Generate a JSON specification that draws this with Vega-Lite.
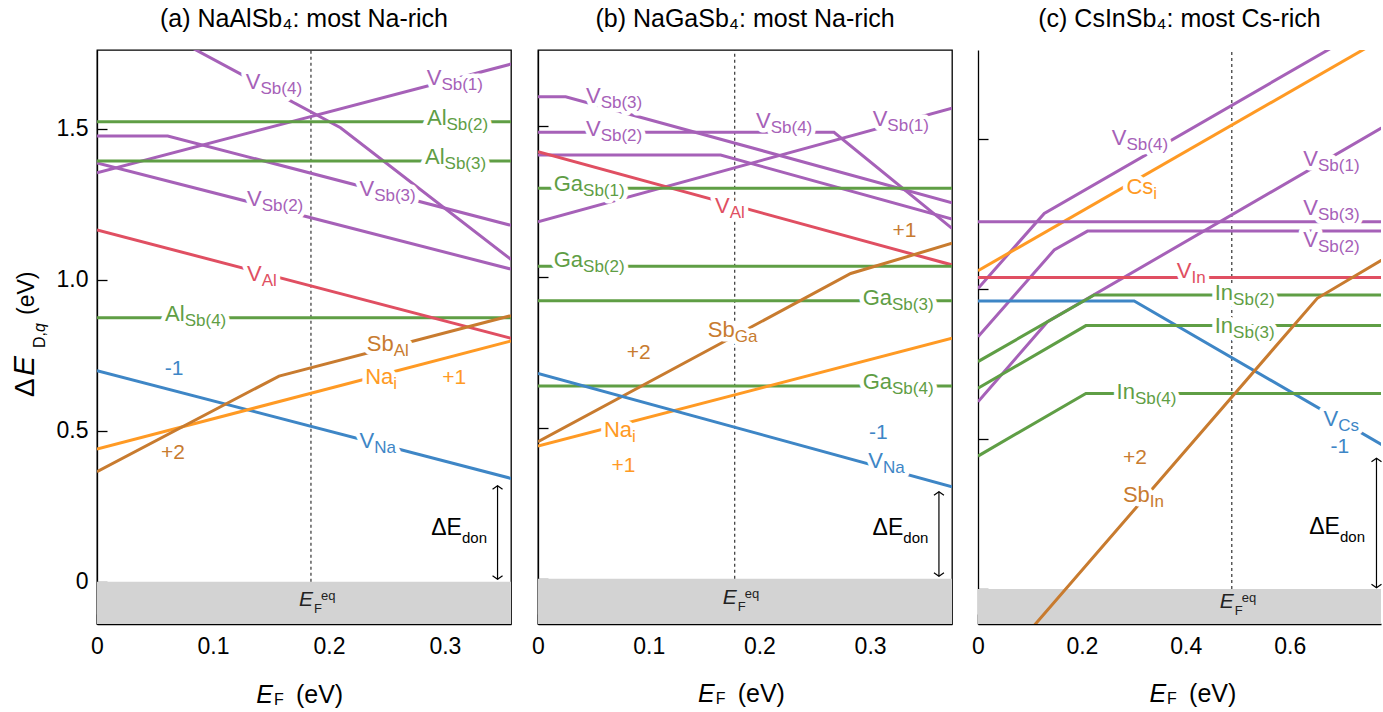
{
"$schema": "https://vega.github.io/schema/vega-lite/v6.json",
"padding": {"left": 8, "top": 6, "right": 0, "bottom": 0},
"spacing": 18,
"config": {
  "font": "Liberation Sans",
  "view": {"stroke": "black", "strokeWidth": 1.3},
  "axis": {"grid": false, "title": null, "domainColor": "black", "domainWidth": 1.3, "tickColor": "black", "tickWidth": 1.3, "tickSize": -10, "labelFontSize": 23, "labelColor": "black", "labelFont": "Liberation Sans", "labelFlush": false},
  "title": {"fontSize": 25, "fontWeight": "normal", "color": "black", "baseline": "alphabetic", "offset": 18, "frame": "group", "anchor": "middle", "font": "Liberation Sans"}
},
"resolve": {"scale": {"x": "independent", "y": "independent"}},
"datasets": {
  "lines": [
    {"p":"a","id":"a1","k":"VSb","x":0,"y":1.937},{"p":"a","id":"a1","k":"VSb","x":0.21,"y":1.503},{"p":"a","id":"a1","k":"VSb","x":0.357,"y":1.067},
    {"p":"a","id":"a2","k":"VSb","x":0,"y":1.354},{"p":"a","id":"a2","k":"VSb","x":0.357,"y":1.714},
    {"p":"a","id":"a3","k":"VSb","x":0,"y":1.476},{"p":"a","id":"a3","k":"VSb","x":0.061,"y":1.476},{"p":"a","id":"a3","k":"VSb","x":0.357,"y":1.18},
    {"p":"a","id":"a4","k":"VSb","x":0,"y":1.387},{"p":"a","id":"a4","k":"VSb","x":0.357,"y":1.035},
    {"p":"a","id":"a5","k":"XSb","x":0,"y":1.523},{"p":"a","id":"a5","k":"XSb","x":0.357,"y":1.523},
    {"p":"a","id":"a6","k":"XSb","x":0,"y":1.393},{"p":"a","id":"a6","k":"XSb","x":0.357,"y":1.393},
    {"p":"a","id":"a7","k":"XSb","x":0,"y":0.874},{"p":"a","id":"a7","k":"XSb","x":0.357,"y":0.874},
    {"p":"a","id":"a8","k":"VM","x":0,"y":1.165},{"p":"a","id":"a8","k":"VM","x":0.357,"y":0.806},
    {"p":"a","id":"a9","k":"VA","x":0,"y":0.699},{"p":"a","id":"a9","k":"VA","x":0.357,"y":0.342},
    {"p":"a","id":"a10","k":"Ai","x":0,"y":0.439},{"p":"a","id":"a10","k":"Ai","x":0.357,"y":0.797},
    {"p":"a","id":"a11","k":"SbM","x":0,"y":0.364},{"p":"a","id":"a11","k":"SbM","x":0.157,"y":0.681},{"p":"a","id":"a11","k":"SbM","x":0.357,"y":0.881},
    {"p":"b","id":"b1","k":"VSb","x":0,"y":1.596},{"p":"b","id":"b1","k":"VSb","x":0.025,"y":1.596},{"p":"b","id":"b1","k":"VSb","x":0.374,"y":1.245},
    {"p":"b","id":"b2","k":"VSb","x":0,"y":1.478},{"p":"b","id":"b2","k":"VSb","x":0.2674,"y":1.478},{"p":"b","id":"b2","k":"VSb","x":0.374,"y":1.16},
    {"p":"b","id":"b3","k":"VSb","x":0,"y":1.403},{"p":"b","id":"b3","k":"VSb","x":0.165,"y":1.403},{"p":"b","id":"b3","k":"VSb","x":0.374,"y":1.191},
    {"p":"b","id":"b4","k":"VSb","x":0,"y":1.182},{"p":"b","id":"b4","k":"VSb","x":0.374,"y":1.558},
    {"p":"b","id":"b5","k":"VM","x":0,"y":1.414},{"p":"b","id":"b5","k":"VM","x":0.374,"y":1.039},
    {"p":"b","id":"b6","k":"XSb","x":0,"y":1.293},{"p":"b","id":"b6","k":"XSb","x":0.374,"y":1.293},
    {"p":"b","id":"b7","k":"XSb","x":0,"y":1.035},{"p":"b","id":"b7","k":"XSb","x":0.374,"y":1.035},
    {"p":"b","id":"b8","k":"XSb","x":0,"y":0.9205},{"p":"b","id":"b8","k":"XSb","x":0.374,"y":0.9205},
    {"p":"b","id":"b9","k":"XSb","x":0,"y":0.638},{"p":"b","id":"b9","k":"XSb","x":0.374,"y":0.638},
    {"p":"b","id":"b10","k":"SbM","x":0,"y":0.4536},{"p":"b","id":"b10","k":"SbM","x":0.2825,"y":1.0106},{"p":"b","id":"b10","k":"SbM","x":0.374,"y":1.1106},
    {"p":"b","id":"b11","k":"Ai","x":0,"y":0.439},{"p":"b","id":"b11","k":"Ai","x":0.374,"y":0.796},
    {"p":"b","id":"b12","k":"VA","x":0,"y":0.68},{"p":"b","id":"b12","k":"VA","x":0.374,"y":0.3046},
    {"p":"c","id":"c1","k":"VSb","x":0,"y":1.002},{"p":"c","id":"c1","k":"VSb","x":0.1275,"y":1.252},{"p":"c","id":"c1","k":"VSb","x":0.8,"y":1.923},
    {"p":"c","id":"c2","k":"Ai","x":0,"y":1.061},{"p":"c","id":"c2","k":"Ai","x":0.8,"y":1.856},
    {"p":"c","id":"c3","k":"VSb","x":0,"y":1.224},{"p":"c","id":"c3","k":"VSb","x":0.8,"y":1.224},
    {"p":"c","id":"c4","k":"VSb","x":0,"y":0.841},{"p":"c","id":"c4","k":"VSb","x":0.1467,"y":1.13},{"p":"c","id":"c4","k":"VSb","x":0.2108,"y":1.193},{"p":"c","id":"c4","k":"VSb","x":0.8,"y":1.193},
    {"p":"c","id":"c5","k":"VSb","x":0,"y":0.624},{"p":"c","id":"c5","k":"VSb","x":0.1338,"y":0.891},{"p":"c","id":"c5","k":"VSb","x":0.8,"y":1.56},
    {"p":"c","id":"c6","k":"VM","x":0,"y":1.038},{"p":"c","id":"c6","k":"VM","x":0.8,"y":1.038},
    {"p":"c","id":"c7","k":"VA","x":0,"y":0.96},{"p":"c","id":"c7","k":"VA","x":0.3006,"y":0.96},{"p":"c","id":"c7","k":"VA","x":0.8,"y":0.458},
    {"p":"c","id":"c8","k":"XSb","x":0,"y":0.758},{"p":"c","id":"c8","k":"XSb","x":0.2237,"y":0.98},{"p":"c","id":"c8","k":"XSb","x":0.8,"y":0.98},
    {"p":"c","id":"c9","k":"XSb","x":0,"y":0.669},{"p":"c","id":"c9","k":"XSb","x":0.2077,"y":0.878},{"p":"c","id":"c9","k":"XSb","x":0.8,"y":0.878},
    {"p":"c","id":"c10","k":"XSb","x":0,"y":0.443},{"p":"c","id":"c10","k":"XSb","x":0.2077,"y":0.652},{"p":"c","id":"c10","k":"XSb","x":0.8,"y":0.652},
    {"p":"c","id":"c11","k":"SbM","x":0,"y":-0.338},{"p":"c","id":"c11","k":"SbM","x":0.653,"y":0.969},{"p":"c","id":"c11","k":"SbM","x":0.8,"y":1.12}
  ],
  "labels": [
    {"p":"a","main":"V","sub":"Sb(4)","k":"VSb","x":0.141,"y":1.656},
    {"p":"a","main":"V","sub":"Sb(1)","k":"VSb","x":0.297,"y":1.667},
    {"p":"a","main":"Al","sub":"Sb(2)","k":"XSb","x":0.3014,"y":1.537},
    {"p":"a","main":"Al","sub":"Sb(3)","k":"XSb","x":0.2997,"y":1.405},
    {"p":"a","main":"V","sub":"Sb(3)","k":"VSb","x":0.239,"y":1.3},
    {"p":"a","main":"V","sub":"Sb(2)","k":"VSb","x":0.142,"y":1.266},
    {"p":"a","main":"V","sub":"Al","k":"VM","x":0.142,"y":1.019},
    {"p":"a","main":"Al","sub":"Sb(4)","k":"XSb","x":0.0756,"y":0.886},
    {"p":"a","main":"Sb","sub":"Al","k":"SbM","x":0.2558,"y":0.787},
    {"p":"a","main":"Na","sub":"i","k":"Ai","x":0.2555,"y":0.679},
    {"p":"a","main":"V","sub":"Na","k":"VA","x":0.239,"y":0.4666},
    {"p":"b","main":"V","sub":"Sb(3)","k":"VSb","x":0.0566,"y":1.599},
    {"p":"b","main":"V","sub":"Sb(2)","k":"VSb","x":0.0566,"y":1.488},
    {"p":"b","main":"V","sub":"Sb(4)","k":"VSb","x":0.2102,"y":1.516},
    {"p":"b","main":"V","sub":"Sb(1)","k":"VSb","x":0.3156,"y":1.5216},
    {"p":"b","main":"Ga","sub":"Sb(1)","k":"XSb","x":0.0407,"y":1.307},
    {"p":"b","main":"V","sub":"Al","k":"VM","x":0.1732,"y":1.2347},
    {"p":"b","main":"Ga","sub":"Sb(2)","k":"XSb","x":0.0407,"y":1.055},
    {"p":"b","main":"Ga","sub":"Sb(3)","k":"XSb","x":0.3198,"y":0.931},
    {"p":"b","main":"Sb","sub":"Ga","k":"SbM","x":0.1777,"y":0.822},
    {"p":"b","main":"Ga","sub":"Sb(4)","k":"XSb","x":0.3198,"y":0.65},
    {"p":"b","main":"Na","sub":"i","k":"Ai","x":0.085,"y":0.4924},
    {"p":"b","main":"V","sub":"Na","k":"VA","x":0.3117,"y":0.39},
    {"p":"c","main":"V","sub":"Sb(4)","k":"VSb","x":0.2858,"y":1.505},
    {"p":"c","main":"Cs","sub":"i","k":"Ai","x":0.3375,"y":1.341},
    {"p":"c","main":"V","sub":"Sb(1)","k":"VSb","x":0.6544,"y":1.433},
    {"p":"c","main":"V","sub":"Sb(3)","k":"VSb","x":0.6544,"y":1.27},
    {"p":"c","main":"V","sub":"Sb(2)","k":"VSb","x":0.6544,"y":1.163},
    {"p":"c","main":"V","sub":"In","k":"VM","x":0.4108,"y":1.061},
    {"p":"c","main":"In","sub":"Sb(2)","k":"XSb","x":0.491,"y":0.988},
    {"p":"c","main":"In","sub":"Sb(3)","k":"XSb","x":0.491,"y":0.877},
    {"p":"c","main":"In","sub":"Sb(4)","k":"XSb","x":0.302,"y":0.658},
    {"p":"c","main":"Sb","sub":"In","k":"SbM","x":0.3308,"y":0.313},
    {"p":"c","main":"V","sub":"Cs","k":"VA","x":0.6935,"y":0.567}
  ],
  "charges": [
    {"p":"a","t":"-1","k":"VA","x":0.0664,"y":0.704},
    {"p":"a","t":"+2","k":"SbM","x":0.0655,"y":0.425},
    {"p":"a","t":"+1","k":"Ai","x":0.308,"y":0.676},
    {"p":"b","t":"+1","k":"SbM","x":0.331,"y":1.152},
    {"p":"b","t":"+2","k":"SbM","x":0.091,"y":0.749},
    {"p":"b","t":"+1","k":"Ai","x":0.0773,"y":0.374},
    {"p":"b","t":"-1","k":"VA","x":0.3075,"y":0.484},
    {"p":"c","t":"+2","k":"SbM","x":0.302,"y":0.438},
    {"p":"c","t":"-1","k":"VA","x":0.6964,"y":0.474}
  ],
  "ef": [
    {"p":"a","x":0.1845,"y":-0.061},
    {"p":"b","x":0.1777,"y":-0.065},
    {"p":"c","x":0.4885,"y":-0.045}
  ],
  "don": [
    {"p":"a","x":0.3147,"y":0.177},
    {"p":"b","x":0.33,"y":0.167},
    {"p":"c","x":0.6967,"y":0.205}
  ],
  "arrows": [
    {"p":"a","x":0.3454,"y":0.008,"y2":0.318},
    {"p":"b","x":0.3622,"y":0.008,"y2":0.288},
    {"p":"c","x":0.767,"y":0.004,"y2":0.4357}
  ],
  "xt": [
    {"p":"a","x":0.1517,"y":-0.4017},
    {"p":"b","x":0.1596,"y":-0.408},
    {"p":"c","x":0.362,"y":-0.3767}
  ],
  "yt": [
    {"p":"a","x":-0.0547,"y":0.6116}
  ],
  "band": [
    {"lo":-1,"hi":0}
  ]
},
"hconcat": [
{
  "width": 414, "height": 574,
  "title": {"text": "(a) NaAlSb₄: most Na-rich"},
  "encoding": {
    "x": {"field":"x","type":"quantitative","scale":{"domain":[0,0.357],"nice":false,"zero":false},"axis":{"values":[0,0.1,0.2,0.3],"format":"~g","labelPadding":21}},
    "y": {"field":"y","type":"quantitative","scale":{"domain":[-0.14,1.7606],"nice":false,"zero":false},"axis":{"values":[0,0.5,1,1.5],"labelExpr":"datum.value == 0 ? '0' : format(datum.value, '.1f')","labelPadding":19}}
  },
  "layer": [
    {"data":{"name":"band"},"mark":{"type":"rect","color":"#d3d3d3","clip":true},"encoding":{"x":{"value":0},"x2":{"value":"width"},"y":{"field":"lo","type":"quantitative"},"y2":{"field":"hi"}}},
    {"data":{"name":"ef"},"transform":[{"filter":"datum.p == 'a'"}],"mark":{"type":"rule","color":"#333333","strokeWidth":1.2,"strokeDash":[3,3],"clip":true},"encoding":{"y":{"datum":0},"y2":{"datum":3}}},
    {"data":{"name":"lines"},"transform":[{"filter":"datum.p == 'a'"}],"mark":{"type":"line","strokeWidth":3,"clip":true},"encoding":{"color":{"field":"k","type":"nominal","scale":{"domain":["VSb","XSb","VM","VA","Ai","SbM"],"range":["#a661b8","#5f9e45","#e04f62","#3e86c6","#ff9a24","#c87b2f"]},"legend":null},"detail":{"field":"id"}}},
    {"data":{"name":"labels"},"transform":[{"filter":"datum.p == 'a'"}],"mark":{"type":"text","align":"right","baseline":"middle","fontSize":22,"color":"white","stroke":"white","strokeWidth":9,"strokeJoin":"round"},"encoding":{"text":{"field":"main"}}},
    {"data":{"name":"labels"},"transform":[{"filter":"datum.p == 'a'"}],"mark":{"type":"text","align":"left","baseline":"middle","fontSize":17,"dy":7,"color":"white","stroke":"white","strokeWidth":9,"strokeJoin":"round"},"encoding":{"text":{"field":"sub"}}},
    {"data":{"name":"labels"},"transform":[{"filter":"datum.p == 'a'"}],"mark":{"type":"text","align":"right","baseline":"middle","fontSize":22},"encoding":{"text":{"field":"main"},"color":{"field":"k","type":"nominal","legend":null}}},
    {"data":{"name":"labels"},"transform":[{"filter":"datum.p == 'a'"}],"mark":{"type":"text","align":"left","baseline":"middle","fontSize":17,"dy":7},"encoding":{"text":{"field":"sub"},"color":{"field":"k","type":"nominal","legend":null}}},
    {"data":{"name":"charges"},"transform":[{"filter":"datum.p == 'a'"}],"mark":{"type":"text","align":"center","baseline":"middle","fontSize":21},"encoding":{"text":{"field":"t"},"color":{"field":"k","type":"nominal","legend":null}}},
    {"data":{"name":"don"},"transform":[{"filter":"datum.p == 'a'"}],"mark":{"type":"text","text":"ΔE","align":"right","baseline":"middle","fontSize":23,"color":"black"}},
    {"data":{"name":"don"},"transform":[{"filter":"datum.p == 'a'"}],"mark":{"type":"text","text":"don","align":"left","baseline":"middle","fontSize":15,"dy":10,"color":"black"}},
    {"data":{"name":"arrows"},"transform":[{"filter":"datum.p == 'a'"}],"mark":{"type":"rule","color":"black","strokeWidth":1.2},"encoding":{"y2":{"field":"y2"}}},
    {"data":{"name":"arrows"},"transform":[{"filter":"datum.p == 'a'"}],"mark":{"type":"point","shape":"M-1,0.7L0,0L1,0.7","filled":false,"size":100,"color":"black","strokeWidth":1.2,"opacity":1},"encoding":{"y":{"field":"y2","type":"quantitative"}}},
    {"data":{"name":"arrows"},"transform":[{"filter":"datum.p == 'a'"}],"mark":{"type":"point","shape":"M-1,-0.7L0,0L1,-0.7","filled":false,"size":100,"color":"black","strokeWidth":1.2,"opacity":1}},
    {"data":{"name":"ef"},"transform":[{"filter":"datum.p == 'a'"}],"mark":{"type":"text","text":"E","fontStyle":"italic","align":"right","baseline":"middle","fontSize":21,"dx":2,"color":"#222222"}},
    {"data":{"name":"ef"},"transform":[{"filter":"datum.p == 'a'"}],"mark":{"type":"text","text":"F","align":"left","baseline":"middle","fontSize":13,"dx":3,"dy":9,"color":"#222222"}},
    {"data":{"name":"ef"},"transform":[{"filter":"datum.p == 'a'"}],"mark":{"type":"text","text":"eq","align":"left","baseline":"middle","fontSize":13,"dx":10,"dy":-4,"color":"#222222"}},
    {"data":{"name":"xt"},"transform":[{"filter":"datum.p == 'a'"}],"mark":{"type":"text","text":"E","fontStyle":"italic","align":"right","baseline":"alphabetic","fontSize":25,"color":"black"}},
    {"data":{"name":"xt"},"transform":[{"filter":"datum.p == 'a'"}],"mark":{"type":"text","text":"F","align":"left","baseline":"alphabetic","fontSize":16,"dx":1,"dy":2,"color":"black"}},
    {"data":{"name":"xt"},"transform":[{"filter":"datum.p == 'a'"}],"mark":{"type":"text","text":"(eV)","align":"left","baseline":"alphabetic","fontSize":25,"dx":23,"color":"black"}},
    {"data":{"name":"yt"},"mark":{"type":"text","text":"Δ","angle":270,"align":"left","baseline":"alphabetic","fontSize":28,"color":"black"}},
    {"data":{"name":"yt"},"mark":{"type":"text","text":"E","fontStyle":"italic","angle":270,"align":"left","baseline":"alphabetic","fontSize":30,"dx":21,"color":"black"}},
    {"data":{"name":"yt"},"mark":{"type":"text","text":"D,","angle":270,"align":"left","baseline":"alphabetic","fontSize":16,"dx":49,"dy":11,"color":"black"}},
    {"data":{"name":"yt"},"mark":{"type":"text","text":"q","fontStyle":"italic","angle":270,"align":"left","baseline":"alphabetic","fontSize":16,"dx":65,"dy":11,"color":"black"}},
    {"data":{"name":"yt"},"mark":{"type":"text","text":"(eV)","angle":270,"align":"left","baseline":"alphabetic","fontSize":23,"dx":82,"color":"black"}}
  ]
},
{
  "width": 414, "height": 574,
  "title": {"text": "(b) NaGaSb₄: most Na-rich"},
  "encoding": {
    "x": {"field":"x","type":"quantitative","scale":{"domain":[0,0.374],"nice":false,"zero":false},"axis":{"values":[0,0.1,0.2,0.3],"format":"~g","labelPadding":21}},
    "y": {"field":"y","type":"quantitative","scale":{"domain":[-0.15,1.7507],"nice":false,"zero":false},"axis":{"values":[0,0.5,1,1.5],"labels":false}}
  },
  "layer": [
    {"data":{"name":"band"},"mark":{"type":"rect","color":"#d3d3d3","clip":true},"encoding":{"x":{"value":0},"x2":{"value":"width"},"y":{"field":"lo","type":"quantitative"},"y2":{"field":"hi"}}},
    {"data":{"name":"ef"},"transform":[{"filter":"datum.p == 'b'"}],"mark":{"type":"rule","color":"#333333","strokeWidth":1.2,"strokeDash":[3,3],"clip":true},"encoding":{"y":{"datum":0},"y2":{"datum":3}}},
    {"data":{"name":"lines"},"transform":[{"filter":"datum.p == 'b'"}],"mark":{"type":"line","strokeWidth":3,"clip":true},"encoding":{"color":{"field":"k","type":"nominal","scale":{"domain":["VSb","XSb","VM","VA","Ai","SbM"],"range":["#a661b8","#5f9e45","#e04f62","#3e86c6","#ff9a24","#c87b2f"]},"legend":null},"detail":{"field":"id"}}},
    {"data":{"name":"labels"},"transform":[{"filter":"datum.p == 'b'"}],"mark":{"type":"text","align":"right","baseline":"middle","fontSize":22,"color":"white","stroke":"white","strokeWidth":9,"strokeJoin":"round"},"encoding":{"text":{"field":"main"}}},
    {"data":{"name":"labels"},"transform":[{"filter":"datum.p == 'b'"}],"mark":{"type":"text","align":"left","baseline":"middle","fontSize":17,"dy":7,"color":"white","stroke":"white","strokeWidth":9,"strokeJoin":"round"},"encoding":{"text":{"field":"sub"}}},
    {"data":{"name":"labels"},"transform":[{"filter":"datum.p == 'b'"}],"mark":{"type":"text","align":"right","baseline":"middle","fontSize":22},"encoding":{"text":{"field":"main"},"color":{"field":"k","type":"nominal","legend":null}}},
    {"data":{"name":"labels"},"transform":[{"filter":"datum.p == 'b'"}],"mark":{"type":"text","align":"left","baseline":"middle","fontSize":17,"dy":7},"encoding":{"text":{"field":"sub"},"color":{"field":"k","type":"nominal","legend":null}}},
    {"data":{"name":"charges"},"transform":[{"filter":"datum.p == 'b'"}],"mark":{"type":"text","align":"center","baseline":"middle","fontSize":21},"encoding":{"text":{"field":"t"},"color":{"field":"k","type":"nominal","legend":null}}},
    {"data":{"name":"don"},"transform":[{"filter":"datum.p == 'b'"}],"mark":{"type":"text","text":"ΔE","align":"right","baseline":"middle","fontSize":23,"color":"black"}},
    {"data":{"name":"don"},"transform":[{"filter":"datum.p == 'b'"}],"mark":{"type":"text","text":"don","align":"left","baseline":"middle","fontSize":15,"dy":10,"color":"black"}},
    {"data":{"name":"arrows"},"transform":[{"filter":"datum.p == 'b'"}],"mark":{"type":"rule","color":"black","strokeWidth":1.2},"encoding":{"y2":{"field":"y2"}}},
    {"data":{"name":"arrows"},"transform":[{"filter":"datum.p == 'b'"}],"mark":{"type":"point","shape":"M-1,0.7L0,0L1,0.7","filled":false,"size":100,"color":"black","strokeWidth":1.2,"opacity":1},"encoding":{"y":{"field":"y2","type":"quantitative"}}},
    {"data":{"name":"arrows"},"transform":[{"filter":"datum.p == 'b'"}],"mark":{"type":"point","shape":"M-1,-0.7L0,0L1,-0.7","filled":false,"size":100,"color":"black","strokeWidth":1.2,"opacity":1}},
    {"data":{"name":"ef"},"transform":[{"filter":"datum.p == 'b'"}],"mark":{"type":"text","text":"E","fontStyle":"italic","align":"right","baseline":"middle","fontSize":21,"dx":2,"color":"#222222"}},
    {"data":{"name":"ef"},"transform":[{"filter":"datum.p == 'b'"}],"mark":{"type":"text","text":"F","align":"left","baseline":"middle","fontSize":13,"dx":3,"dy":9,"color":"#222222"}},
    {"data":{"name":"ef"},"transform":[{"filter":"datum.p == 'b'"}],"mark":{"type":"text","text":"eq","align":"left","baseline":"middle","fontSize":13,"dx":10,"dy":-4,"color":"#222222"}},
    {"data":{"name":"xt"},"transform":[{"filter":"datum.p == 'b'"}],"mark":{"type":"text","text":"E","fontStyle":"italic","align":"right","baseline":"alphabetic","fontSize":25,"color":"black"}},
    {"data":{"name":"xt"},"transform":[{"filter":"datum.p == 'b'"}],"mark":{"type":"text","text":"F","align":"left","baseline":"alphabetic","fontSize":16,"dx":1,"dy":2,"color":"black"}},
    {"data":{"name":"xt"},"transform":[{"filter":"datum.p == 'b'"}],"mark":{"type":"text","text":"(eV)","align":"left","baseline":"alphabetic","fontSize":25,"dx":23,"color":"black"}}
  ]
},
{
  "width": 403, "height": 574,
  "view": {"stroke": null},
  "title": {"text": "(c) CsInSb₄: most Cs-rich"},
  "encoding": {
    "x": {"field":"x","type":"quantitative","scale":{"domain":[0,0.7757],"nice":false,"zero":false},"axis":{"values":[0,0.2,0.4,0.6],"format":"~g","labelPadding":21}},
    "y": {"field":"y","type":"quantitative","scale":{"domain":[-0.1167,1.7967],"nice":false,"zero":false},"axis":{"values":[0,0.5,1,1.5],"labels":false}}
  },
  "layer": [
    {"data":{"name":"band"},"mark":{"type":"rect","color":"#d3d3d3","clip":true},"encoding":{"x":{"value":0},"x2":{"value":"width"},"y":{"field":"lo","type":"quantitative"},"y2":{"field":"hi"}}},
    {"data":{"values":[{}]},"mark":{"type":"rule","color":"black","strokeWidth":1.3},"encoding":{"x":{"datum":0},"x2":{"datum":0.7757},"y":{"datum":1.7967}}},
    {"data":{"name":"ef"},"transform":[{"filter":"datum.p == 'c'"}],"mark":{"type":"rule","color":"#333333","strokeWidth":1.2,"strokeDash":[3,3],"clip":true},"encoding":{"y":{"datum":0},"y2":{"datum":3}}},
    {"data":{"name":"lines"},"transform":[{"filter":"datum.p == 'c'"}],"mark":{"type":"line","strokeWidth":3,"clip":true},"encoding":{"color":{"field":"k","type":"nominal","scale":{"domain":["VSb","XSb","VM","VA","Ai","SbM"],"range":["#a661b8","#5f9e45","#e04f62","#3e86c6","#ff9a24","#c87b2f"]},"legend":null},"detail":{"field":"id"}}},
    {"data":{"name":"labels"},"transform":[{"filter":"datum.p == 'c'"}],"mark":{"type":"text","align":"right","baseline":"middle","fontSize":22,"color":"white","stroke":"white","strokeWidth":9,"strokeJoin":"round"},"encoding":{"text":{"field":"main"}}},
    {"data":{"name":"labels"},"transform":[{"filter":"datum.p == 'c'"}],"mark":{"type":"text","align":"left","baseline":"middle","fontSize":17,"dy":7,"color":"white","stroke":"white","strokeWidth":9,"strokeJoin":"round"},"encoding":{"text":{"field":"sub"}}},
    {"data":{"name":"labels"},"transform":[{"filter":"datum.p == 'c'"}],"mark":{"type":"text","align":"right","baseline":"middle","fontSize":22},"encoding":{"text":{"field":"main"},"color":{"field":"k","type":"nominal","legend":null}}},
    {"data":{"name":"labels"},"transform":[{"filter":"datum.p == 'c'"}],"mark":{"type":"text","align":"left","baseline":"middle","fontSize":17,"dy":7},"encoding":{"text":{"field":"sub"},"color":{"field":"k","type":"nominal","legend":null}}},
    {"data":{"name":"charges"},"transform":[{"filter":"datum.p == 'c'"}],"mark":{"type":"text","align":"center","baseline":"middle","fontSize":21},"encoding":{"text":{"field":"t"},"color":{"field":"k","type":"nominal","legend":null}}},
    {"data":{"name":"don"},"transform":[{"filter":"datum.p == 'c'"}],"mark":{"type":"text","text":"ΔE","align":"right","baseline":"middle","fontSize":23,"color":"black"}},
    {"data":{"name":"don"},"transform":[{"filter":"datum.p == 'c'"}],"mark":{"type":"text","text":"don","align":"left","baseline":"middle","fontSize":15,"dy":10,"color":"black"}},
    {"data":{"name":"arrows"},"transform":[{"filter":"datum.p == 'c'"}],"mark":{"type":"rule","color":"black","strokeWidth":1.2},"encoding":{"y2":{"field":"y2"}}},
    {"data":{"name":"arrows"},"transform":[{"filter":"datum.p == 'c'"}],"mark":{"type":"point","shape":"M-1,0.7L0,0L1,0.7","filled":false,"size":100,"color":"black","strokeWidth":1.2,"opacity":1},"encoding":{"y":{"field":"y2","type":"quantitative"}}},
    {"data":{"name":"arrows"},"transform":[{"filter":"datum.p == 'c'"}],"mark":{"type":"point","shape":"M-1,-0.7L0,0L1,-0.7","filled":false,"size":100,"color":"black","strokeWidth":1.2,"opacity":1}},
    {"data":{"name":"ef"},"transform":[{"filter":"datum.p == 'c'"}],"mark":{"type":"text","text":"E","fontStyle":"italic","align":"right","baseline":"middle","fontSize":21,"dx":2,"color":"#222222"}},
    {"data":{"name":"ef"},"transform":[{"filter":"datum.p == 'c'"}],"mark":{"type":"text","text":"F","align":"left","baseline":"middle","fontSize":13,"dx":3,"dy":9,"color":"#222222"}},
    {"data":{"name":"ef"},"transform":[{"filter":"datum.p == 'c'"}],"mark":{"type":"text","text":"eq","align":"left","baseline":"middle","fontSize":13,"dx":10,"dy":-4,"color":"#222222"}},
    {"data":{"name":"xt"},"transform":[{"filter":"datum.p == 'c'"}],"mark":{"type":"text","text":"E","fontStyle":"italic","align":"right","baseline":"alphabetic","fontSize":25,"color":"black"}},
    {"data":{"name":"xt"},"transform":[{"filter":"datum.p == 'c'"}],"mark":{"type":"text","text":"F","align":"left","baseline":"alphabetic","fontSize":16,"dx":1,"dy":2,"color":"black"}},
    {"data":{"name":"xt"},"transform":[{"filter":"datum.p == 'c'"}],"mark":{"type":"text","text":"(eV)","align":"left","baseline":"alphabetic","fontSize":25,"dx":23,"color":"black"}}
  ]
}
]
}
